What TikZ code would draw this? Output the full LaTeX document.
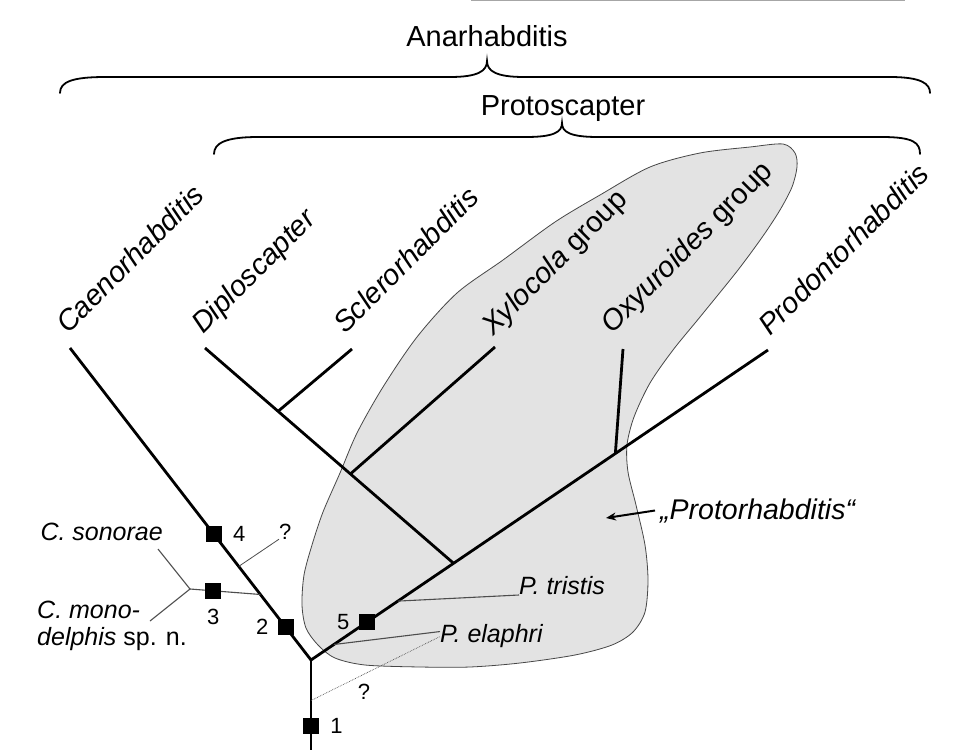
\documentclass[tikz,border=0pt]{standalone}
\usepackage{fontspec}
\setmainfont{Liberation Sans}
\usepackage{tikz}
\usetikzlibrary{arrows.meta,positioning,calc}
\definecolor{BlobFill}{HTML}{E3E3E3}
\definecolor{BlobEdge}{HTML}{474747}
\definecolor{TwigGray}{HTML}{4D4D4D}

\begin{document}
\begin{tikzpicture}[x=1pt,y=-1pt,
  every node/.style={inner sep=0pt},
  clade/.style={font=\fontsize{29}{32}\selectfont},
  genus/.style={font=\fontsize{29}{32}\selectfont,rotate=45,anchor=base west},
  taxon/.style={font=\fontsize{25}{27}\selectfont\itshape},
  num/.style={font=\fontsize{22}{24}\selectfont},
  apo/.style={fill=black,minimum size=16pt},
  branch/.style={line width=2.8pt},
  twig/.style={TwigGray,line width=1.1pt},
  brace/.style={line width=1.8pt,line cap=round},
  arr/.style={-{Stealth[length=10pt,width=8pt]},line width=2pt}
]
\fill[white] (0,0) rectangle (959,750);
\useasboundingbox (0,0) rectangle (959,750);
\draw[gray!70,line width=1.2pt] (471,0.8) -- (905,0.8);

% "Protorhabditis" shading
\filldraw[fill=BlobFill,draw=BlobEdge,line width=0.8pt] plot[smooth cycle,tension=0.5] coordinates {
  (783,144) (795,153) (797,167) (792,187) (780,210) (763,236) (738,270) (700,317)
  (673,350) (650,383) (634,417) (627,445) (628,472) (636,505) (645,545) (648,580)
  (645,612) (633,632) (612,645) (575,655) (520,663) (470,667) (420,667) (365,665)
  (335,658) (318,645) (306,628) (302,605) (304,575) (312,545) (323,512) (340,473)
  (357,433) (383,387) (417,337) (457,293) (503,260) (555,222) (600,195) (650,167)
  (700,153) (750,147)};

% braces
\node[clade,anchor=base] (anar) at (487,46) {Anarhabditis};
\draw[brace] (60,93) .. controls (60,82) and (72,77) .. (105,77) -- (450,77)
  .. controls (478,77) and (487,71) .. (487,61) .. controls (487,71) and (496,77) .. (524,77)
  -- (890,77) .. controls (922,77) and (930,84) .. (930,93);
\node[clade,anchor=base] (proto) at (563,115) {Protoscapter};
\draw[brace] (214,154) .. controls (214,143) and (226,137) .. (258,137) -- (526,137)
  .. controls (554,137) and (562,132) .. (562,123) .. controls (562,132) and (570,137) .. (598,137)
  -- (882,137) .. controls (914,137) and (920,143) .. (920,154);

% tree
\coordinate (base) at (311,750);
\coordinate (j0) at (311,660);
\coordinate (cae) at (70,348);
\coordinate (pro) at (768,350);
\coordinate (dip) at (205,348);
\coordinate (scl) at (352,349);
\coordinate (xyl) at (495,347);
\coordinate (oxy) at (623,349);
\coordinate (d0) at ($(j0)!0.312!(pro)$);
\coordinate (o0) at ($(j0)!0.666!(pro)$);
\coordinate (s0) at ($(d0)!0.706!(dip)$);
\coordinate (x0) at ($(d0)!0.415!(dip)$);
\draw[branch] (cae) -- (j0) -- (pro); \draw[branch] (j0) -- (base);
\draw[branch] (d0) -- (dip); \draw[branch] (s0) -- (scl);
\draw[branch] (x0) -- (xyl); \draw[branch] (o0) -- (oxy);

\node[genus] (ncae) at ($(cae)+(-2,-13)$) {\textit{Caenorhabditis}};
\node[genus] (ndip) at ($(dip)+(-2,-13)$) {\textit{Diploscapter}};
\node[genus] (nscl) at ($(scl)+(-7,-14)$) {\textit{Sclerorhabditis}};
\node[genus] (nxyl) at ($(xyl)+(-2,-10)$) {\textit{Xylocola} group};
\node[genus] (noxy) at ($(oxy)+(-11,-14)$) {\textit{Oxyuroides} group};
\node[genus] (npro) at ($(pro)+(2,-13)$) {\textit{Prodontorhabditis}};

% Caenorhabditis species
\coordinate (c0) at ($(j0)!0.21!(cae)$);
\coordinate (cj) at (190,589);
\coordinate (csonend) at (158,549);
\coordinate (cmonend) at (150,621);
\node[taxon,anchor=base east] (cson) at (163,540) {C. sonorae};
\node[taxon,align=left,anchor=north west] (cmon) at (37,601) {C. mono-\\delphis {\upshape sp. n.}};
\draw[twig] (csonend) -- (cj) -- (cmonend); \draw[twig] (cj) -- (c0);

% Protorhabditis species
\coordinate (t0) at ($(j0)!0.19!(pro)$);
\coordinate (e0) at ($(j0)!0.05!(pro)$);
\node[taxon,anchor=south west] (ptri) at (519,595) {P. tristis};
\node[taxon,anchor=base west] (pela) at (440,642) {P. elaphri};
\draw[twig] (t0) -- (ptri.south west);
\draw[twig] (e0) -- ([yshift=4pt]pela.west);

% uncertain positions
\coordinate (q1a) at ($(j0)!0.3!(cae)$);
\coordinate (q2a) at ($(j0)!0.45!(base)$);
\node[num,anchor=base west] (q1) at (279,539) {?};
\node[num] (q2) at (364,692) {?};
\draw[twig,line width=0.8pt] (q1a) -- (q1.south west);
\draw[twig,line width=0.7pt,densely dotted] (q2a) -- ([yshift=-1pt]pela.west);

% apomorphies
\node[apo] (m1) at ($(j0)!0.73!(base)$) {};
\node[apo] (m2) at ($(j0)!0.105!(cae)$) {};
\node[apo] (m3) at ($(cj)!0.33!(c0)$) {};
\node[apo] (m4) at ($(j0)!0.404!(cae)$) {};
\node[apo] (m5) at ($(j0)!0.122!(pro)$) {};
\node[num,right=11pt of m1] (n1) {1};
\node[num,left=9pt of m2] (n2) {2};
\node[num,below=10pt of m3] (n3) {3};
\node[num,right=11pt of m4] (n4) {4};
\node[num,left=9pt of m5] (n5) {5};

% paraphyletic group
\node[taxon,font=\fontsize{28.5}{30}\selectfont\itshape,anchor=base west] (prot) at (660,519) {„Protorhabditis“};
\coordinate (protarr) at (606,518);
\draw[arr] ([xshift=-5pt]prot.west) -- (protarr);
\end{tikzpicture}
\end{document}
